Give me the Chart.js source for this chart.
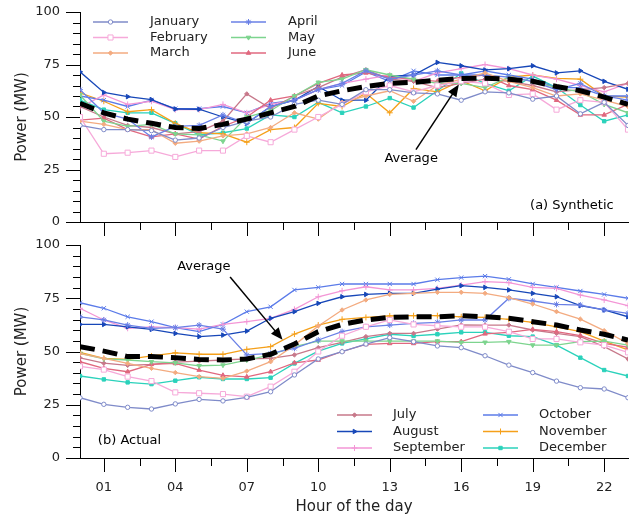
<!DOCTYPE html>
<html>
<head>
<meta charset="utf-8">
<script src="https://cdn.jsdelivr.net/npm/chart.js@4.4.1/dist/chart.umd.min.js"></script>
<style>
  html, body { margin: 0; padding: 0; background: #fff; }
  #wrap { position: relative; width: 643px; height: 518px; }
  canvas { position: absolute; left: 0; }
  #top { top: 0; }
  #bottom { top: 233px; }
</style>
</head>
<body>
<div id="wrap">
  <canvas id="top" width="643" height="240"></canvas>
  <canvas id="bottom" width="643" height="285"></canvas>
</div>
<script>
// hours of the day and axis ticks
const hours = [0, 1, 2, 3, 4, 5, 6, 7, 8, 9, 10, 11, 12, 13, 14, 15, 16, 17, 18, 19, 20, 21, 22, 23];
const xMajor = [1, 4, 7, 10, 13, 16, 19, 22];
const xTickLabels = ['01', '04', '07', '10', '13', '16', '19', '22'];
const yMajor = [0, 25, 50, 75, 100];
const months = ['January', 'February', 'March', 'April', 'May', 'June',
  'July', 'August', 'September', 'October', 'November', 'December'];

// (a) synthetic
const synJan = [46, 44, 44, 43.5, 39, 40, 45, 48, 50, 56, 58, 56, 63, 63, 61.5, 61, 58, 62, 61.5, 58.5, 60, 51.5, 57, 46];
const synFeb = [50, 32.5, 33, 34, 31, 34, 34, 41, 38, 44, 50, 56, 62, 65, 62, 65, 67, 66, 60.5, 61, 53.5, 58, 57, 44];
const synMar = [48, 46.5, 44, 44, 37.5, 38.5, 41, 42, 45, 52, 49, 57, 60, 62.5, 57.5, 65, 68, 71, 67, 64, 60, 61, 58, 55];
const synApr = [63, 52, 49, 40.5, 45.5, 46, 51, 47, 55, 58, 63, 66, 72, 68, 70, 72, 70, 70, 69, 67, 63, 66, 60, 58];
const synMay = [60.5, 48, 45.5, 46.5, 42, 41.5, 38.5, 50, 53, 60, 66.5, 68, 72.5, 70, 68, 66, 66, 64, 69, 67, 64, 62, 56, 52];
const synJun = [48.5, 49.5, 44, 40.5, 42, 39.5, 45.5, 50, 58, 60, 66, 70, 71, 69, 68, 67, 69, 70, 65, 63, 58, 51, 51, 56];
const synJul = [55, 50, 46, 45, 42, 43, 48, 61, 54, 60, 64, 69, 72.5, 68, 67, 64, 66, 68, 67, 65, 62, 63, 64, 66];
const synAug = [71.5, 61.7, 59.7, 58.3, 53.8, 53.7, 50, 47, 55, 58, 64.5, 58, 58, 69.3, 70, 76, 74.4, 72.4, 73, 74.4, 71, 72, 67, 63.2];
const synSep = [54.5, 60.5, 56, 57.5, 53.5, 53.5, 56, 52, 56, 58, 63, 66, 68, 70, 67, 71, 73, 75, 73, 70, 68, 65, 62, 66];
const synOct = [60, 58, 55, 58, 54, 54, 55, 52, 56.5, 58, 63, 65, 71.5, 67, 72, 70, 70, 72, 70, 68, 64, 64, 60, 60];
const synNov = [61.5, 57.5, 52.5, 53.5, 47, 42.5, 42, 38, 44, 45, 56.5, 55, 61.3, 52, 63.6, 62, 67.3, 62.5, 69, 70, 68.4, 68, 60, 59.5];
const synDec = [58, 53.5, 52, 52, 47, 41.5, 42.5, 44.5, 51, 50, 57, 52, 55, 59, 54.5, 62.5, 70.8, 66, 62.5, 69.5, 64, 55.7, 48, 51];
const synAvg = [56.5, 52, 49, 47, 45, 44.5, 46.5, 49, 52, 55, 60, 62.5, 64.5, 66, 66.5, 67.5, 68.3, 68.5, 68, 67, 64.5, 62.5, 59.5, 56];

// (b) actual
const actJan = [28.3, 25.2, 23.8, 23, 25.4, 27.5, 26.8, 28.5, 31.1, 39, 46.5, 49.9, 53.5, 56.5, 54.6, 52.6, 51.8, 48, 43.6, 40.1, 36.1, 33, 32.4, 28.3];
const actFeb = [43, 41.5, 38.2, 36.1, 30.8, 30.4, 30, 28.8, 33.5, 40.5, 50, 57.4, 61.6, 64.8, 62.7, 62.1, 61.6, 61.6, 59.3, 55.9, 55.9, 54.3, 53, 49.6];
const actMar = [49, 46.8, 44.4, 42.1, 40.1, 38.2, 37.4, 40.8, 45.2, 53, 62, 69.5, 74.2, 76.8, 77.3, 77.8, 77.8, 77.3, 75.3, 72.3, 68.7, 65.2, 59.8, 53.8];
const actApr = [66.3, 64.8, 62.4, 60.9, 61.2, 62.4, 60.5, 48.4, 49.1, 51.5, 55.4, 59.3, 61.6, 62.4, 63.2, 63.7, 64.8, 64.8, 75, 73.7, 72.1, 71.8, 69.5, 67.9];
const actMay = [49.1, 46.5, 46, 45.2, 44.7, 43.3, 43.6, 46, 48.4, 52.3, 54.9, 54.9, 54.9, 54.9, 54.9, 54.9, 54.3, 54.3, 54.6, 53, 53, 54.6, 54.9, 53];
const actJun = [45.2, 42.1, 40.5, 44, 44.4, 41.3, 38.8, 38.1, 40.5, 44.7, 46, 50, 53.3, 53.8, 53.8, 54.6, 54.6, 58.3, 59, 60.4, 59.3, 57.5, 53.8, 52];
const actJul = [47, 44.5, 43.5, 44, 45, 45.5, 46, 46.5, 46.8, 48.4, 51.8, 54.3, 57, 58.5, 58.5, 60.5, 62.5, 62.4, 62.4, 60.1, 58.5, 57, 52.3, 46.5];
const actAug = [62.7, 62.7, 61.6, 60.4, 58.5, 57, 57.7, 59.6, 65.6, 68.7, 72.6, 75.7, 76.8, 77.3, 77.3, 79.3, 80.9, 80.1, 78.9, 77.3, 75.7, 71.5, 69.5, 66.3];
const actSep = [70.3, 64.8, 60.9, 61.6, 61.2, 60.5, 62.7, 64, 65.6, 69.8, 75.7, 78.5, 80.4, 78.9, 78.9, 79.6, 81.2, 82.8, 82.3, 80.1, 79.6, 76.5, 74.2, 71.5];
const actOct = [72.9, 70.3, 66.3, 64, 61.2, 59.3, 62.7, 68.7, 71, 78.9, 80.1, 81.7, 81.7, 81.7, 81.7, 83.7, 84.7, 85.4, 83.9, 81.7, 80.1, 78.4, 76.8, 75];
const actNov = [49.6, 46.8, 46.3, 47.9, 49.4, 48.7, 48.7, 51, 52.3, 58.2, 62.4, 65.1, 66, 66.7, 66.8, 66.8, 66.3, 66, 65.1, 63.7, 61.6, 59.3, 54.9, 50.7];
const actDec = [38.5, 36.9, 35.5, 34.7, 36.3, 37.9, 37.1, 37.1, 37.7, 44.4, 50.2, 53.8, 55.9, 58.1, 57.3, 58.1, 59, 59, 57.4, 57, 53, 47.1, 41.3, 38.5];
const actAvg = [52.3, 50.2, 47.6, 47.6, 47.1, 46.3, 46, 46.5, 48.7, 53.5, 59.3, 62.7, 64.8, 66, 66.3, 66.3, 66.8, 66.3, 65.6, 64, 62.4, 60.1, 58.1, 55.4];

const monthStyles = [
  {color: '#7f8bc9', point: 'circle', radius: 2.2, fill: '#fff'},
  {color: '#f6a9d9', point: 'rect', radius: 3.6, fill: '#fff'},
  {color: '#f3ab80', point: 'rectRot', radius: 2.2},
  {color: '#6a80e6', point: 'star', radius: 3},
  {color: '#7dd48e', point: 'triangle', radius: 2.6, rot: 180},
  {color: '#e0687f', point: 'triangle', radius: 2.6},
  {color: '#c7788a', point: 'rectRot', radius: 2.2},
  {color: '#1747b8', point: 'triangle', radius: 2.6, rot: 90},
  {color: '#f396d6', point: 'cross', radius: 3},
  {color: '#5b7be9', point: 'crossRot', radius: 3},
  {color: '#f5a01a', point: 'cross', radius: 3},
  {color: '#2bd2bb', point: 'rect', radius: 2.4}
];

Chart.defaults.font.family = "'DejaVu Sans', sans-serif";
Chart.defaults.color = '#222';

function monthSeries(values, i) {
  const s = monthStyles[i];
  return {
    label: months[i],
    data: values.map((v, k) => ({x: hours[k], y: v})),
    borderColor: s.color,
    backgroundColor: s.fill || s.color,
    pointBorderColor: s.color,
    pointBackgroundColor: s.fill || s.color,
    pointStyle: s.point,
    pointRotation: s.rot || 0,
    pointRadius: s.radius,
    pointBorderWidth: 1,
    borderWidth: 1.3
  };
}

function avgSeries(values) {
  return {
    label: 'Average',
    data: values.map((v, k) => ({x: hours[k], y: v})),
    borderColor: '#000',
    borderWidth: 5,
    borderDash: [15, 8],
    borderCapStyle: 'butt',
    pointRadius: 0,
    order: -1
  };
}

function arrow(ctx, x0, y0, x1, y1) {
  const a = Math.atan2(y1 - y0, x1 - x0);
  ctx.beginPath();
  ctx.moveTo(x0, y0);
  ctx.lineTo(x1 - 8 * Math.cos(a), y1 - 8 * Math.sin(a));
  ctx.lineWidth = 1.5;
  ctx.stroke();
  ctx.beginPath();
  ctx.moveTo(x1, y1);
  ctx.lineTo(x1 - 12 * Math.cos(a) + 5 * Math.sin(a), y1 - 12 * Math.sin(a) - 5 * Math.cos(a));
  ctx.lineTo(x1 - 12 * Math.cos(a) - 5 * Math.sin(a), y1 - 12 * Math.sin(a) + 5 * Math.cos(a));
  ctx.closePath();
  ctx.fill();
}

// tick marks, legend and notes drawn on top of the chart
const extras = {
  id: 'extras',
  afterDraw(chart, args, opts) {
    const {ctx, chartArea: a, scales: {x, y}} = chart;
    ctx.save();
    ctx.strokeStyle = '#000';
    ctx.lineWidth = 1;
    ctx.beginPath();
    x.ticks.forEach(t => {
      const px = Math.round(x.getPixelForValue(t.value)) + 0.5;
      ctx.moveTo(px, a.bottom);
      ctx.lineTo(px, a.bottom + (xMajor.includes(t.value) ? 14 : 8));
    });
    y.ticks.forEach(t => {
      const py = Math.round(y.getPixelForValue(t.value)) + 0.5;
      ctx.moveTo(a.left, py);
      ctx.lineTo(a.left - (yMajor.includes(t.value) ? 14 : 7), py);
    });
    ctx.stroke();

    // legend
    const lg = opts.legend;
    ctx.font = "13px 'DejaVu Sans'";
    ctx.textBaseline = 'middle';
    ctx.textAlign = 'left';
    lg.items.forEach((mi, n) => {
      const col = Math.floor(n / 3), row = n % 3;
      const lx = a.left + lg.x + col * lg.colGap;
      const ly = a.top + lg.y + row * lg.rowGap;
      const s = monthStyles[mi];
      ctx.strokeStyle = s.color;
      ctx.lineWidth = 1.5;
      ctx.beginPath();
      ctx.moveTo(lx, ly);
      ctx.lineTo(lx + 35, ly);
      ctx.stroke();
      ctx.fillStyle = s.fill || s.color;
      ctx.lineWidth = 1;
      Chart.helpers.drawPoint(ctx, {pointStyle: s.point, rotation: s.rot || 0, radius: s.radius, borderWidth: 1}, lx + 17.5, ly);
      ctx.fillStyle = '#222';
      ctx.fillText(months[mi], lx + lg.textGap, ly);
    });

    // notes
    ctx.fillStyle = '#000';
    ctx.strokeStyle = '#000';
    opts.notes.forEach(nt => {
      ctx.textAlign = nt.align || 'center';
      ctx.fillText(nt.text, x.getPixelForValue(nt.at[0]), y.getPixelForValue(nt.at[1]));
      if (nt.from) {
        arrow(ctx, x.getPixelForValue(nt.from[0]), y.getPixelForValue(nt.from[1]),
          x.getPixelForValue(nt.to[0]), y.getPixelForValue(nt.to[1]));
      }
    });
    ctx.restore();
  }
};

function makeChart(id, series, avg, cfg) {
  const datasets = [avgSeries(avg)].concat(series.map((v, i) => monthSeries(v, i)));
  return new Chart(document.getElementById(id), {
    type: 'line',
    data: {datasets},
    plugins: [extras],
    options: {
      responsive: false,
      animation: false,
      devicePixelRatio: 1,
      layout: {padding: {top: 12, right: 15, left: 0, bottom: 0}},
      plugins: {
        legend: {display: false},
        tooltip: {enabled: false},
        extras: {legend: cfg.legend, notes: cfg.notes}
      },
      scales: {
        x: {
          type: 'linear',
          min: 0,
          max: 23,
          afterBuildTicks(s) {
            const vals = [];
            xMajor.forEach((v, i) => {
              vals.push(v);
              if (i < xMajor.length - 1) vals.push((v + xMajor[i + 1]) / 2);
            });
            s.ticks = vals.map(v => ({value: v}));
          },
          afterFit(s) {
            s.height = cfg.xHeight;
            s.paddingLeft = 0;
            s.paddingRight = 0;
          },
          grid: {display: false, drawTicks: false},
          border: {display: true, color: '#000', width: 1},
          ticks: {
            autoSkip: false,
            maxRotation: 0,
            padding: 22,
            color: '#222',
            font: {size: 13},
            callback(v) {
              const i = xMajor.indexOf(v);
              return cfg.xLabels && i >= 0 ? xTickLabels[i] : '';
            }
          },
          title: {
            display: !!cfg.xLabels,
            text: 'Hour of the day',
            color: '#222',
            font: {size: 15},
            padding: {top: 0, bottom: 2}
          }
        },
        y: {
          min: 0,
          max: 100,
          afterBuildTicks(s) {
            const vals = [];
            for (let v = 0; v <= 100; v += 5) vals.push(v);
            s.ticks = vals.map(v => ({value: v}));
          },
          afterFit(s) {
            s.width = 80;
            s.paddingTop = 0;
            s.paddingBottom = 0;
          },
          grid: {display: false, drawTicks: false},
          border: {display: true, color: '#000', width: 1},
          ticks: {
            autoSkip: false,
            padding: 20,
            color: '#222',
            font: {size: 13},
            callback(v) { return yMajor.includes(v) ? String(v) : ''; }
          },
          title: {
            display: true,
            text: 'Power (MW)',
            color: '#222',
            font: {size: 15},
            padding: {top: 13, bottom: 0}
          }
        }
      }
    }
  });
}

makeChart('top',
  [synJan, synFeb, synMar, synApr, synMay, synJun, synJul, synAug, synSep, synOct, synNov, synDec],
  synAvg,
  {
    xHeight: 18,
    xLabels: false,
    legend: {items: [0, 1, 2, 3, 4, 5], x: 13, y: 10, colGap: 138, rowGap: 15.5, textGap: 57},
    notes: [
      {text: 'Average', at: [13.9, 30], from: [14.1, 34.5], to: [15.9, 65.5]},
      {text: '(a) Synthetic', at: [22.4, 7.6], align: 'right'}
    ]
  });

makeChart('bottom',
  [actJan, actFeb, actMar, actApr, actMay, actJun, actJul, actAug, actSep, actOct, actNov, actDec],
  actAvg,
  {
    xHeight: 60,
    xLabels: true,
    legend: {items: [6, 7, 8, 9, 10, 11], x: 257, y: 170, colGap: 146, rowGap: 16.5, textGap: 56},
    notes: [
      {text: 'Average', at: [5.2, 89.7], from: [6.3, 85], to: [8.5, 55.5]},
      {text: '(b) Actual', at: [0.75, 8], align: 'left'}
    ]
  });
</script>
</body>
</html>
